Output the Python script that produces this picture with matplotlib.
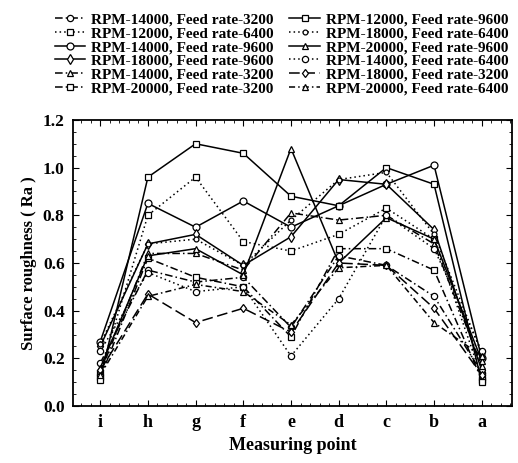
import numpy as np
import matplotlib.pyplot as plt

plt.rcParams['font.family'] = 'Liberation Serif'
plt.rcParams['font.weight'] = 'bold'

points = ['i', 'h', 'g', 'f', 'e', 'd', 'c', 'b', 'a']

labels = ['RPM-14000, Feed rate-3200', 'RPM-12000, Feed rate-6400',
          'RPM-14000, Feed rate-9600', 'RPM-18000, Feed rate-9600',
          'RPM-14000, Feed rate-3200', 'RPM-20000, Feed rate-3200',
          'RPM-12000, Feed rate-9600', 'RPM-18000, Feed rate-6400',
          'RPM-20000, Feed rate-9600', 'RPM-14000, Feed rate-6400',
          'RPM-18000, Feed rate-3200', 'RPM-20000, Feed rate-6400']

ra_14k_3200a = [0.18, 0.57, 0.52, 0.54, 0.33, 0.63, 0.59, 0.46, 0.14]
ra_12k_6400 = [0.14, 0.80, 0.96, 0.69, 0.65, 0.72, 0.83, 0.70, 0.12]
ra_14k_9600 = [0.27, 0.85, 0.75, 0.86, 0.75, 0.84, 0.93, 1.01, 0.20]
ra_18k_9600 = [0.25, 0.68, 0.72, 0.59, 0.71, 0.95, 0.93, 0.74, 0.15]
ra_14k_3200b = [0.14, 0.64, 0.64, 0.57, 0.81, 0.78, 0.80, 0.68, 0.17]
ra_20k_3200 = [0.12, 0.62, 0.54, 0.50, 0.29, 0.66, 0.66, 0.57, 0.11]
ra_12k_9600 = [0.11, 0.96, 1.10, 1.06, 0.88, 0.84, 1.00, 0.93, 0.10]
ra_18k_6400 = [0.26, 0.68, 0.70, 0.59, 0.78, 0.95, 0.98, 0.72, 0.22]
ra_20k_9600 = [0.16, 0.63, 0.66, 0.55, 1.08, 0.60, 0.79, 0.70, 0.19]
ra_14k_6400 = [0.23, 0.56, 0.48, 0.50, 0.21, 0.45, 0.80, 0.66, 0.23]
ra_18k_3200 = [0.15, 0.47, 0.35, 0.41, 0.31, 0.60, 0.59, 0.41, 0.13]
ra_20k_6400 = [0.13, 0.46, 0.51, 0.48, 0.34, 0.58, 0.59, 0.35, 0.21]

series = [ra_14k_3200a, ra_12k_6400, ra_14k_9600, ra_18k_9600,
          ra_14k_3200b, ra_20k_3200, ra_12k_9600, ra_18k_6400,
          ra_20k_9600, ra_14k_6400, ra_18k_3200, ra_20k_6400]

# line style and marker for each run
dashdot = (0, (5, 2, 1, 2))
dotted = (0, (1, 2))
styles = [(dashdot, 'o', 4.5), (dotted, 's', 4.5),
          ('-', 'o', 5), ('-', 'd', 5),
          (dashdot, '^', 5), (dashdot, 's', 5),
          ('-', 's', 5), (dotted, 'o', 3.5),
          ('-', '^', 5), (dotted, 'o', 4.5),
          ((0, (7, 3)), 'd', 4.5), ((0, (4, 2, 1, 2)), '^', 4.5)]

fig = plt.figure(figsize=(5.18, 4.63), dpi=100)
ax = fig.add_axes([0.141, 0.123, 0.847, 0.618])

x = np.arange(len(points))
for ra, lab, (ls, mk, ms) in zip(series, labels, styles):
    ax.plot(x, ra, color='black', linestyle=ls, linewidth=1.1, marker=mk,
            markersize=ms, markerfacecolor='white', markeredgecolor='black',
            markeredgewidth=0.9, label=lab)

ax.set_xlim(-0.57, 8.63)
ax.set_ylim(0, 1.2)
ax.set_xticks(x)
ax.set_xticklabels(points, fontsize=13, fontweight='bold')
ax.set_yticks(np.arange(0, 1.21, 0.2))
ax.set_yticklabels(['%.1f' % v for v in np.arange(0, 1.21, 0.2)],
                   fontsize=12.5, fontweight='bold')
ax.minorticks_on()
ax.tick_params(which='both', direction='in', top=True, right=True)
ax.tick_params(which='major', length=4, pad=6)
ax.tick_params(which='minor', length=2)
for side in ax.spines.values():
    side.set_linewidth(1.3)

ax.set_xlabel('Measuring point', fontsize=13, fontweight='bold')
ax.set_ylabel('Surface roughness ( Ra )', fontsize=12, fontweight='bold')

fig.legend(loc='upper left', bbox_to_anchor=(0.085, 0.995), ncol=2,
           frameon=False, handlelength=2.0, handletextpad=0.4,
           columnspacing=1.0, labelspacing=0.0, borderpad=0.2,
           prop={'weight': 'bold', 'size': 11})

fig.savefig('out.png', dpi=100)
